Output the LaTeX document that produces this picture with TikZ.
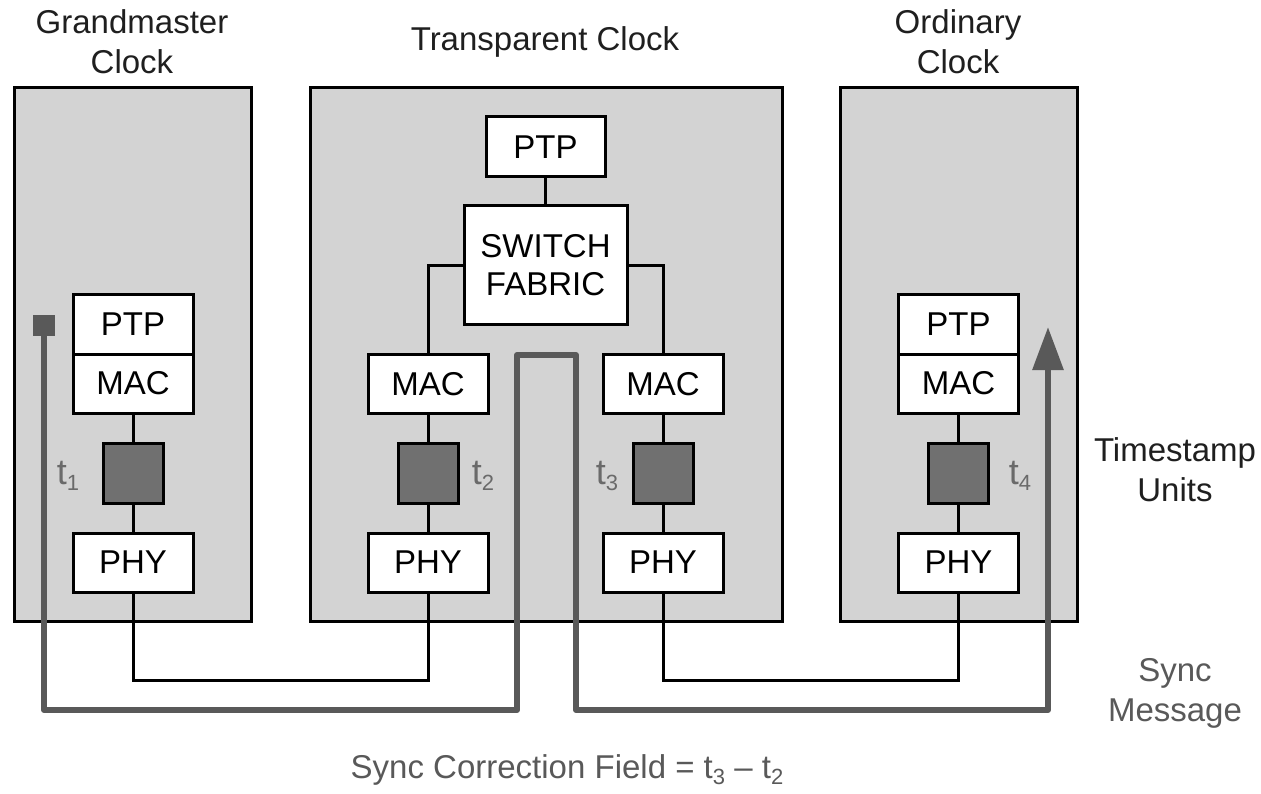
\documentclass[tikz,border=0pt]{standalone}
\usepackage{fontspec}
\setmainfont{Liberation Sans}
\usetikzlibrary{arrows.meta}
\definecolor{panelgray}{HTML}{D3D3D3}
\definecolor{tsgray}{HTML}{707070}
\definecolor{flowgray}{HTML}{595959}
\definecolor{labelgray}{HTML}{6A6A6A}
% timestamp label: t with a lowered index
\newcommand{\tsub}[1]{t\raisebox{-0.17em}{\fontsize{22}{22}\selectfont #1}}
\begin{document}
\begin{tikzpicture}[x=1pt,y=-1pt,
  panel/.style={draw=black, fill=panelgray, line width=3pt, inner sep=0pt},
  layer/.style={draw=black, fill=white, line width=3pt, minimum width=120pt,
    minimum height=59pt, inner sep=0pt, font=\fontsize{33}{38}\selectfont},
  tsu/.style={draw=black, fill=tsgray, line width=3pt, minimum width=60pt,
    minimum height=60pt, inner sep=0pt},
  link/.style={draw=black, line width=3pt},
  flow/.style={draw=flowgray, line width=6pt, line join=round},
  title/.style={align=center, font=\fontsize{33}{40}\selectfont, text=black!88},
  tlabel/.style={text=labelgray, font=\fontsize{36}{40}\selectfont, inner sep=0pt},
]
\useasboundingbox (0,0) rectangle (1261,794);

% clock enclosures
\node[panel, minimum width=237pt, minimum height=533pt] (gm) at (132.5,354.5) {};
\node[panel, minimum width=472pt, minimum height=533pt] (tc) at (546,354.5) {};
\node[panel, minimum width=237pt, minimum height=533pt] (oc) at (958.5,354.5) {};

% titles
\node[title] (gmtitle) at (132,42) {Grandmaster\\Clock};
\node[title] (tctitle) at (545,42) {Transparent Clock};
\node[title] (octitle) at (958,42) {Ordinary\\Clock};

% grandmaster stack
\node[layer] (gmptp) at (133,324.5) {PTP};
\node[layer] (gmmac) at (133,383.5) {MAC};
\node[tsu]   (gmts)  at (133,473) {};
\node[layer] (gmphy) at (133,562.5) {PHY};

% transparent clock
\node[layer, minimum width=119pt, minimum height=60pt] (tcptp) at (545.5,147) {PTP};
\node[layer, minimum width=163pt, minimum height=119pt, align=center] (tcsw) at (545.5,265.5) {SWITCH\\FABRIC};
\node[layer] (tcmacL) at (428,384) {MAC};
\node[tsu]   (tctsL)  at (428,473) {};
\node[layer] (tcphyL) at (428,562.5) {PHY};
\node[layer] (tcmacR) at (663,384) {MAC};
\node[tsu]   (tctsR)  at (663,473) {};
\node[layer] (tcphyR) at (663,562.5) {PHY};

% ordinary clock stack
\node[layer] (ocptp) at (958.5,324.5) {PTP};
\node[layer] (ocmac) at (958.5,383.5) {MAC};
\node[tsu]   (octs)  at (958.5,473) {};
\node[layer] (ocphy) at (958.5,562.5) {PHY};

% internal links
\draw[link] (gmmac.south) -- (gmts.north);
\draw[link] (gmts.south) -- (gmphy.north);
\draw[link] (tcptp.south) -- (tcsw.north);
\draw[link] (tcsw.west) -| (tcmacL.north);
\draw[link] (tcsw.east) -| (tcmacR.north);
\draw[link] (tcmacL.south) -- (tctsL.north);
\draw[link] (tctsL.south) -- (tcphyL.north);
\draw[link] (tcmacR.south) -- (tctsR.north);
\draw[link] (tctsR.south) -- (tcphyR.north);
\draw[link] (ocmac.south) -- (octs.north);
\draw[link] (octs.south) -- (ocphy.north);

% network cables
\coordinate (busL) at (280,680);
\coordinate (busR) at (800,680);
\draw[link] (gmphy.south) |- (busL) -| (tcphyL.south);
\draw[link] (tcphyR.south) |- (busR) -| (ocphy.south);

% timestamp labels
\node[tlabel] (t1) at (68,476) {\tsub{1}};
\node[tlabel] (t2) at (483,476) {\tsub{2}};
\node[tlabel] (t3) at (607,476) {\tsub{3}};
\node[tlabel] (t4) at (1020,476) {\tsub{4}};

% side labels
\node[title] (tsunits) at (1175,470) {Timestamp\\Units};
\node[title, text=flowgray] (syncmsg) at (1175,693) {Sync\\Message};
\node[title, text=flowgray] (corr) at (567,770) {Sync Correction Field = \tsub{3} – \tsub{2}};

% sync message path
\node[fill=flowgray, minimum width=22pt, minimum height=21pt, inner sep=0pt] (gmsrc) at (44,325.5) {};
\coordinate (sinkL) at (517,710);
\coordinate (loopL) at (517,355);
\coordinate (loopR) at (576,355);
\coordinate (sinkR) at (576,710);
\coordinate (rise) at (1048,710);
\coordinate (tip) at (1048,327);
\draw[flow, -{Triangle[length=43pt,width=30pt]}]
  (gmsrc.south) |- (sinkL) -- (loopL) -- (loopR) -- (sinkR) -- (rise) -- (tip);
\end{tikzpicture}
\end{document}
